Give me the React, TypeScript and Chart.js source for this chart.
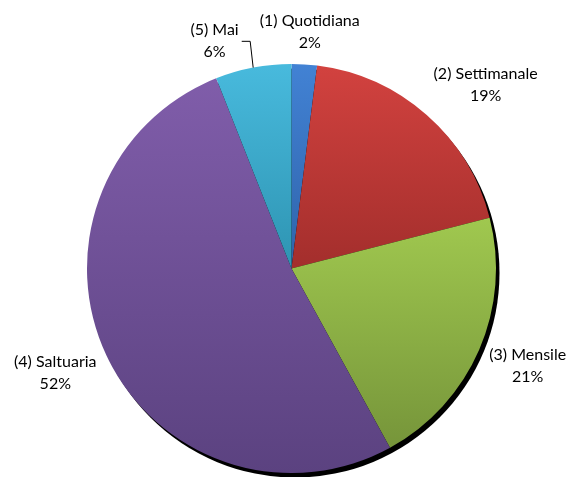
import React, { useEffect, useRef } from "react";
import { Chart, registerables } from "chart.js";

Chart.register(...registerables);

const categories = ["(1) Quotidiana", "(2) Settimanale", "(3) Mensile", "(4) Saltuaria", "(5) Mai"];
const values = [2, 19, 21, 52, 6];
const topColors = ["#4282d4", "#d2423f", "#a0c84f", "#805daa", "#48badd"];
const bottomColors = ["#2f63aa", "#a32e2c", "#76953a", "#5b4280", "#2e94b2"];

const FONT = "16px Lato";
const LINE_H = 22;
const GAP = 11;
const COLLIDE_PAD = 18;

function sliceGradient(ctx: any) {
  const i = ctx.dataIndex;
  const chart = ctx.chart;
  const area = chart.chartArea;
  if (i === undefined || !area) return topColors[i ?? 0];
  const cx = (area.left + area.right) / 2;
  const cy = (area.top + area.bottom) / 2;
  const r = Math.min(area.right - area.left, area.bottom - area.top) / 2;
  const total = values.reduce((a, b) => a + b, 0);
  let start = -Math.PI / 2;
  for (let k = 0; k < i; k++) start += (values[k] / total) * Math.PI * 2;
  const end = start + (values[i] / total) * Math.PI * 2;
  const ys = [cy, cy + r * Math.sin(start), cy + r * Math.sin(end)];
  const within = (a: number) => {
    let t = a;
    while (t < start) t += Math.PI * 2;
    return t <= end;
  };
  if (within(Math.PI / 2)) ys.push(cy + r);
  if (within(-Math.PI / 2) || within((3 * Math.PI) / 2)) ys.push(cy - r);
  const minY = Math.min(...ys);
  const maxY = Math.max(...ys);
  const g = chart.ctx.createLinearGradient(0, minY, 0, maxY + 0.01);
  g.addColorStop(0, topColors[i]);
  g.addColorStop(1, bottomColors[i]);
  return g;
}

const shadowPlugin = {
  id: "pieShadow",
  beforeDatasetsDraw(chart: any) {
    const meta = chart.getDatasetMeta(0);
    const arc = meta.data[0];
    if (!arc) return;
    const { x, y, outerRadius } = arc.getProps(["x", "y", "outerRadius"], true);
    const c = chart.ctx;
    c.save();
    c.fillStyle = "#000";
    c.beginPath();
    c.arc(x + 3.5, y + 4.5, outerRadius, 0, Math.PI * 2);
    c.fill();
    c.restore();
  },
};

const clamp = (v: number) => Math.max(-1, Math.min(1, v));

const labelPlugin = {
  id: "outLabels",
  afterDatasetsDraw(chart: any) {
    const meta = chart.getDatasetMeta(0);
    const c = chart.ctx;
    const total = values.reduce((a, b) => a + b, 0);
    c.save();
    c.font = FONT;
    c.fillStyle = "#000";
    c.strokeStyle = "#000";
    c.lineWidth = 1;
    c.textAlign = "center";
    c.textBaseline = "middle";
    const placed: any[] = [];
    meta.data.forEach((arc: any, i: number) => {
      const { x, y, startAngle, endAngle, outerRadius } = arc.getProps(
        ["x", "y", "startAngle", "endAngle", "outerRadius"],
        true
      );
      const mid = (startAngle + endAngle) / 2;
      const lines = [categories[i], Math.round((values[i] / total) * 100) + "%"];
      const w = Math.max(...lines.map((l) => c.measureText(l).width));
      const h = LINE_H * lines.length;
      const place = (ang: number) => {
        const dx = Math.cos(ang);
        const dy = Math.sin(ang);
        const px = x + dx * (outerRadius + GAP);
        const py = y + dy * (outerRadius + GAP);
        const cx = px + clamp(dx * 1.5) * (w / 2);
        const cy = py + clamp(dy * 1.33) * (h / 2);
        return { cx, cy, l: cx - w / 2, r: cx + w / 2, t: cy - h / 2, b: cy + h / 2 };
      };
      const hits = (b: any) =>
        placed.some(
          (p) =>
            b.l < p.r + COLLIDE_PAD && b.r > p.l - COLLIDE_PAD && b.t < p.b && b.b > p.t
        );
      let box = place(mid);
      let moved = false;
      if (hits(box)) {
        moved = true;
        for (let k = 1; k < 180; k++) {
          const d = (k * Math.PI) / 180;
          const a = place(mid - d);
          if (!hits(a)) {
            box = a;
            break;
          }
          const b = place(mid + d);
          if (!hits(b)) {
            box = b;
            break;
          }
        }
      }
      placed.push(box);
      lines.forEach((l, j) => {
        c.fillText(l, box.cx, box.cy + (j - (lines.length - 1) / 2) * LINE_H);
      });
      if (moved) {
        const ax = x + Math.cos(mid) * outerRadius;
        const ay = y + Math.sin(mid) * outerRadius;
        c.beginPath();
        if (ax > box.r) {
          const sx = box.r + 3;
          c.moveTo(sx, box.cy);
          c.lineTo(Math.max(sx, ax - 3), box.cy);
        } else {
          const sx = box.l - 3;
          c.moveTo(sx, box.cy);
          c.lineTo(Math.min(sx, ax + 3), box.cy);
        }
        c.lineTo(ax, ay);
        c.stroke();
      }
    });
    c.restore();
  },
};

export default function App() {
  const ref = useRef<HTMLCanvasElement | null>(null);
  useEffect(() => {
    if (!ref.current) return;
    const chart = new Chart(ref.current, {
      type: "pie",
      data: {
        labels: categories,
        datasets: [
          {
            data: values,
            backgroundColor: sliceGradient as any,
            borderWidth: 0,
            hoverOffset: 0,
          },
        ],
      },
      options: {
        animation: false,
        responsive: true,
        maintainAspectRatio: false,
        layout: { padding: { left: 87, top: 64, right: 80, bottom: 4 } },
        plugins: {
          legend: { display: false },
          tooltip: { enabled: false },
        },
      },
      plugins: [shadowPlugin, labelPlugin],
    });
    return () => chart.destroy();
  }, []);
  return (
    <div style={{ position: "absolute", left: 0, top: 0, width: 576, height: 477, background: "#fff" }}>
      <canvas ref={ref} />
    </div>
  );
}
